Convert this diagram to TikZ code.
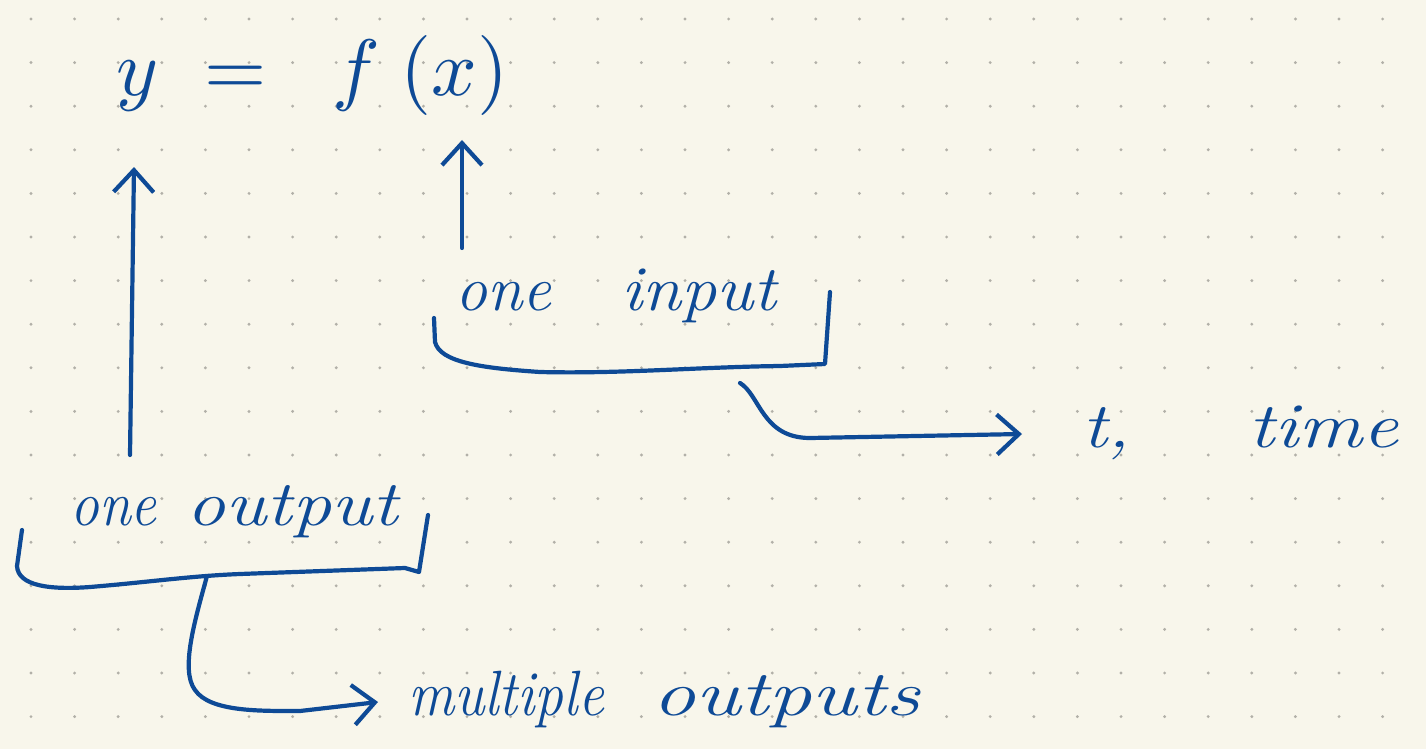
\documentclass[tikz,border=0pt]{standalone}
\usetikzlibrary{arrows.meta}
\definecolor{paper}{RGB}{248,246,235}
\definecolor{ink}{RGB}{14,74,150}
\definecolor{dotc}{RGB}{178,176,168}
\tikzset{
  pen/.style={draw=ink, line width=4.2pt, line cap=round, line join=round},
  penarrow/.style={pen, -{Straight Barb[length=22pt,width=40pt,line width=4.2pt]}},
  hand/.style={text=ink, inner sep=0pt, font=\fontsize{64}{70}\selectfont\itshape},
}
\newcommand{\hw}[2]{\scalebox{#1}[1]{#2}}
\begin{document}
\begin{tikzpicture}[x=1pt,y=-1pt]
\fill[paper] (0,0) rectangle (1426,749);
\useasboundingbox (0,0) rectangle (1426,749);
% dot grid
\foreach \i in {0,...,31} \foreach \j in {0,...,16}
  \fill[dotc] ({31+43.6*\i},{19+43.6*\j}) circle (1.6pt);

% formula
\node[text=ink, inner sep=0pt, anchor=base west] (formula) at (116,96)
  {\scalebox{8}{$y\hspace{3pt}=\hspace{5.5pt}f\hspace{2.5pt}(x)$}};

% labels
\node[hand, anchor=base west] (oneinput) at (455,310)
  {\hw{1}{one}\hspace{70pt}\hw{1.1}{input}};
\node[hand, anchor=base west] (oneoutput) at (70,525)
  {\hw{0.9}{one}\hspace{30pt}\hw{1.22}{output}};
\node[hand, anchor=base west] (ttime) at (1082,447)
  {\hw{1.2}{t,}\hspace{118pt}\hw{1.25}{time}};
\node[hand, anchor=base west] (multi) at (408,715)
  {\hw{0.9}{multiple}\hspace{48pt}\hw{1.35}{outputs}};

% coordinates
\coordinate (a1s) at (130,455);
\coordinate (a1e) at (134,167);
\coordinate (a2s) at (462,248);
\coordinate (a2e) at (462,140);
\coordinate (b1s) at (740,383);
\coordinate (b1e) at (1022,434);
\coordinate (b2s) at (207,576);
\coordinate (b2e) at (378,702);

% up arrows
\draw[penarrow] (a1s) -- (a1e);
\draw[penarrow] (a2s) -- (a2e);

% bracket under "one input"
\draw[pen] (434,318) -- (435,342) .. controls (440,362) and (480,368) .. (540,372)
  .. controls (620,374) and (700,367) .. (780,366) -- (825,364) -- (830,292);
% bracket under "one output"
\draw[pen] (22,530) -- (17,566) .. controls (18,586) and (50,590) .. (90,587)
  .. controls (150,582) and (190,576) .. (240,574) -- (405,568) -- (419,572) -- (428,515);

% connectors
\draw[penarrow] (b1s) .. controls (760,395) and (762,438) .. (810,438) -- (b1e);
\draw[penarrow] (b2s) .. controls (195,620) and (180,670) .. (195,690)
  .. controls (210,712) and (260,711) .. (300,711) -- (b2e);
\end{tikzpicture}
\end{document}
